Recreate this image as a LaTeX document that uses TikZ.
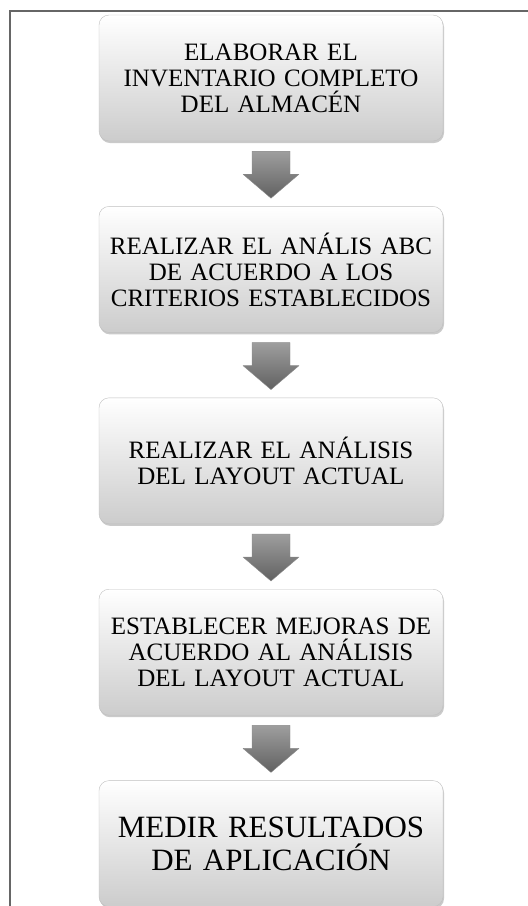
\documentclass[tikz,border=0pt]{standalone}
\usepackage{fontspec}
\setmainfont{Liberation Serif}
\usetikzlibrary{positioning,calc,shadows}
\begin{document}
\begin{tikzpicture}[x=1pt,y=1pt,
  paso/.style={rounded corners=10pt,draw=black!25,thin,top color=white,bottom color=black!20,
    drop shadow={shadow xshift=1pt,shadow yshift=-2pt,opacity=0.35,fill=black!60},
    minimum width=344pt,minimum height=126pt,text width=336pt,align=center,inner sep=2pt,
    font=\fontsize{25}{26}\selectfont},
  pasog/.style={paso,font=\fontsize{31}{33}\selectfont},
  flecha/.style={draw=black!45,thin,top color=black!38,bottom color=black!62,line join=round},
  marco/.style={draw=black!60,line width=1.6pt}]
\pgfmathsetmacro{\ancho}{19}
\pgfmathsetmacro{\punta}{28}
\pgfmathsetmacro{\sep}{10}
\pgfmathsetmacro{\cuerpo}{33}
\useasboundingbox (0,0) rectangle (528,-906);
\draw[marco](10,-906)--(10,-11)--(528,-11);
\node[paso](b1) at (271,-78){ELABORAR EL\\INVENTARIO COMPLETO\\DEL ALMACÉN};
\node[paso,below=65pt of b1](b2){REALIZAR EL ANÁLIS ABC\\DE ACUERDO A LOS\\CRITERIOS ESTABLECIDOS};
\node[paso,below=65pt of b2](b3){REALIZAR EL ANÁLISIS\\DEL LAYOUT ACTUAL};
\node[paso,below=65pt of b3](b4){ESTABLECER MEJORAS DE\\ACUERDO AL ANÁLISIS\\DEL LAYOUT ACTUAL};
\node[pasog,below=65pt of b4](b5){MEDIR RESULTADOS\\DE APLICACIÓN};
\foreach \a/\b in {b1/b2,b2/b3,b3/b4,b4/b5}{
\shade[flecha]($(\a.south)+(-\ancho,-\sep)$)--++(2*\ancho,0)--($(\a.south)+(\ancho,-\cuerpo)$)--($(\a.south)+(\punta,-\cuerpo)$)
  --($(\b.north)+(0,8)$)--($(\a.south)+(-\punta,-\cuerpo)$)--($(\a.south)+(-\ancho,-\cuerpo)$)--cycle;}
\end{tikzpicture}
\end{document}
